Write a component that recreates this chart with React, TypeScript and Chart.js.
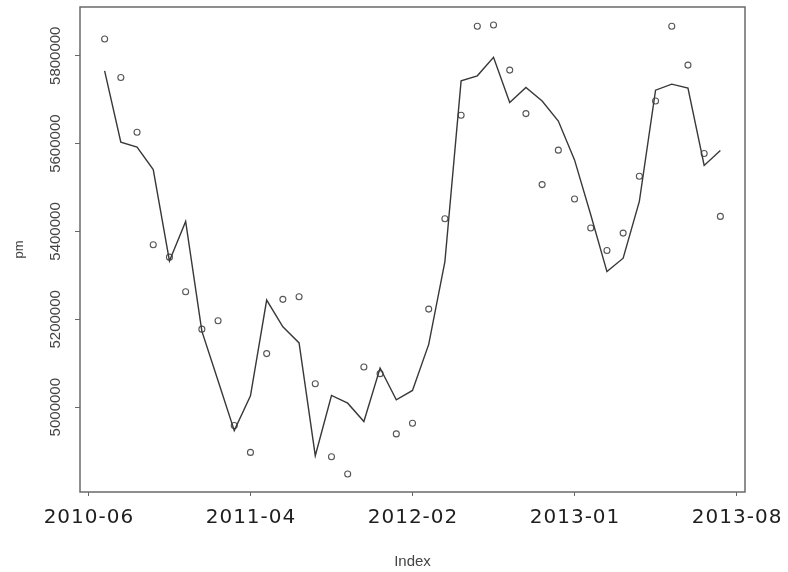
import React, { useEffect, useRef } from "react";
import { Chart, registerables } from "chart.js";

Chart.register(...registerables);

// Monthly observations (index 1..39)
const pm: number[] = [
  5838000, 5750600, 5626000, 5369600, 5341500, 5262900, 5177600, 5196600, 4958200, 4897100,
  5122000, 5245500, 5251400, 5053500, 4887300, 4847800, 5091400, 5076300, 4939200, 4963400,
  5223300, 5429000, 5664500, 5867200, 5870100, 5767300, 5668300, 5506700, 5585100, 5474000,
  5407800, 5356600, 5396300, 5525700, 5697100, 5867200, 5778700, 5577600, 5434300,
];

// Fitted values drawn as the line
const fitted: number[] = [
  5765700, 5603400, 5592000, 5541000, 5333000, 5422900, 5173000, 5060300, 4946700, 5026000,
  5243900, 5182900, 5146300, 4889600, 5026700, 5009100, 4967300, 5089100, 5016900, 5038200,
  5143000, 5331400, 5742900, 5754300, 5796300, 5693500, 5727800, 5697100, 5651400, 5563000,
  5438000, 5308600, 5339200, 5468600, 5721600, 5735300, 5726200, 5550200, 5584500,
];

const xTickPositions: number[] = [0, 10, 20, 30, 40];
const xTickLabels: string[] = ["2010-06", "2011-04", "2012-02", "2013-01", "2013-08"];
const yTickValues: number[] = [5000000, 5200000, 5400000, 5600000, 5800000];

const xTitle = "Index";
const yTitle = "pm";

export default function App() {
  const canvasRef = useRef<HTMLCanvasElement | null>(null);

  useEffect(() => {
    const canvas = canvasRef.current;
    if (!canvas) return;

    const idx = pm.map((_, i) => i + 1);
    // R-style 4% range extension
    const xMinD = 1;
    const xMaxD = pm.length;
    const xPad = (xMaxD - xMinD) * 0.04;
    const yMinD = Math.min(...pm);
    const yMaxD = Math.max(...pm);
    const yPad = (yMaxD - yMinD) * 0.04;

    const axisText = {
      id: "axisText",
      afterDraw(chart: any) {
        const { ctx, chartArea, scales } = chart;
        const xs = scales.x;
        const ys = scales.y;
        ctx.save();
        // plot box
        ctx.strokeStyle = "#6a6a6a";
        ctx.lineWidth = 1.5;
        ctx.strokeRect(chartArea.left, chartArea.top, chartArea.right - chartArea.left, chartArea.bottom - chartArea.top);

        // y tick labels (rotated)
        ctx.fillStyle = "#444";
        ctx.font = '15px "Liberation Sans", Arial, sans-serif';
        ctx.textAlign = "center";
        ctx.textBaseline = "alphabetic";
        for (const v of yTickValues) {
          const y = ys.getPixelForValue(v);
          ctx.save();
          ctx.translate(59.5, y);
          ctx.rotate(-Math.PI / 2);
          ctx.fillText(String(v), 0, 0);
          ctx.restore();
        }

        // x tick labels
        ctx.fillStyle = "#1e1e1e";
        ctx.font = '20px "DejaVu Sans", sans-serif';
        (ctx as any).letterSpacing = "1px";
        xTickPositions.forEach((p, i) => {
          const x = xs.getPixelForValue(p);
          ctx.fillText(xTickLabels[i], x + 0.5, 523);
        });
        (ctx as any).letterSpacing = "0px";

        // axis titles
        ctx.fillStyle = "#444";
        ctx.font = '15px "Liberation Sans", Arial, sans-serif';
        ctx.fillText(xTitle, (chartArea.left + chartArea.right) / 2, 566);
        ctx.save();
        ctx.translate(22.5, (chartArea.top + chartArea.bottom) / 2);
        ctx.rotate(-Math.PI / 2);
        ctx.font = '13px "Liberation Sans", Arial, sans-serif';
        ctx.fillText(yTitle, 0, 0);
        ctx.restore();
        ctx.restore();
      },
    };

    const chart = new Chart(canvas, {
      type: "line",
      data: {
        datasets: [
          {
            label: "fitted",
            data: idx.map((x, i) => ({ x, y: fitted[i] })),
            borderColor: "#383838",
            borderWidth: 1.4,
            pointRadius: 0,
            fill: false,
            tension: 0,
          },
          {
            label: "pm",
            data: idx.map((x, i) => ({ x, y: pm[i] })),
            showLine: false,
            pointStyle: "circle",
            pointRadius: 3,
            pointBorderWidth: 1.1,
            pointBorderColor: "#555",
            pointBackgroundColor: "rgba(0,0,0,0)",
          },
        ],
      },
      options: {
        responsive: false,
        animation: false,
        events: [],
        layout: { padding: { left: 0, right: 43, top: 7, bottom: 0 } },
        plugins: {
          legend: { display: false },
          tooltip: { enabled: false },
        },
        scales: {
          x: {
            type: "linear",
            min: xMinD - xPad,
            max: xMaxD + xPad,
            afterBuildTicks: (s: any) => {
              s.ticks = xTickPositions.map((v) => ({ value: v }));
            },
            afterFit: (s: any) => {
              s.height = 80;
            },
            ticks: { display: false },
            border: { display: false },
            grid: {
              drawOnChartArea: false,
              drawTicks: true,
              tickLength: 4,
              tickColor: "#666",
              tickWidth: 1,
            },
          },
          y: {
            type: "linear",
            min: yMinD - yPad,
            max: yMaxD + yPad,
            afterBuildTicks: (s: any) => {
              s.ticks = yTickValues.map((v) => ({ value: v }));
            },
            afterFit: (s: any) => {
              s.width = 80;
            },
            ticks: { display: false },
            border: { display: false },
            grid: {
              drawOnChartArea: false,
              drawTicks: true,
              tickLength: 5,
              tickColor: "#666",
              tickWidth: 1,
            },
          },
        },
      },
      plugins: [axisText],
    });

    return () => chart.destroy();
  }, []);

  return (
    <div style={{ position: "absolute", left: 0, top: 0, width: 788, height: 572, background: "#fff" }}>
      <canvas ref={canvasRef} width={788} height={572} />
    </div>
  );
}
